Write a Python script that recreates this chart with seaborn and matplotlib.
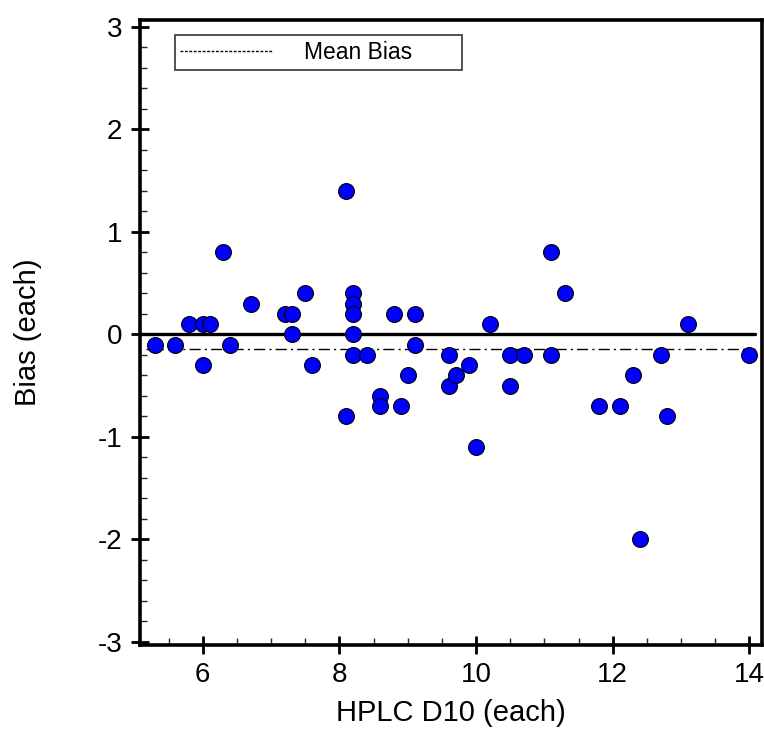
import numpy as np
import pandas as pd
import seaborn as sns
import matplotlib.pyplot as plt
from matplotlib.lines import Line2D
from matplotlib.ticker import MultipleLocator

# HPLC D10 values (x) and bias (y)
hplc_d10 = [5.3, 5.6, 5.8, 6.0, 6.1, 6.0, 6.3, 6.4, 6.7, 7.2, 7.3, 7.3, 7.5, 7.6,
            8.1, 8.1, 8.2, 8.2, 8.2, 8.2, 8.2, 8.4, 8.6, 8.6, 8.8, 8.9, 9.0, 9.1,
            9.1, 9.6, 9.6, 9.7, 9.9, 10.0, 10.2, 10.5, 10.5, 10.7, 11.1, 11.1,
            11.3, 11.8, 12.1, 12.3, 12.4, 12.7, 12.8, 13.1, 14.0]
bias = [-0.1, -0.1, 0.1, 0.1, 0.1, -0.3, 0.8, -0.1, 0.3, 0.2, 0.2, 0.0, 0.4, -0.3,
        1.4, -0.8, 0.4, 0.3, 0.2, 0.0, -0.2, -0.2, -0.6, -0.7, 0.2, -0.7, -0.4, 0.2,
        -0.1, -0.2, -0.5, -0.4, -0.3, -1.1, 0.1, -0.2, -0.5, -0.2, 0.8, -0.2,
        0.4, -0.7, -0.7, -0.4, -2.0, -0.2, -0.8, 0.1, -0.2]
x_ticks = [6, 8, 10, 12, 14]
y_ticks = [-3, -2, -1, 0, 1, 2, 3]

df = pd.DataFrame({"x": hplc_d10, "bias": bias})
mean_bias = df["bias"].mean()

sns.set_style("ticks")
plt.rcParams['font.family'] = ['Liberation Sans', 'DejaVu Sans']
plt.rcParams['text.color'] = 'black'
plt.rcParams['axes.labelcolor'] = 'black'

fig = plt.figure(figsize=(7.64, 7.31), dpi=100)
ax = fig.add_axes([0.183, 0.118, 0.814, 0.855])

ax.axhline(0, color="black", lw=2.4, xmin=0.0, xmax=0.99, zorder=2)
ax.axhline(mean_bias, color="black", lw=1.0, ls=(0, (8, 3, 1.5, 3)),
           xmin=0.01, xmax=0.99, zorder=2)

sns.scatterplot(data=df, x="x", y="bias", ax=ax, color="#0000ff", s=130,
                edgecolor="black", linewidth=0.8, zorder=3, legend=False)

ax.set_xlim(5.08, 14.18)
ax.set_ylim(-3.03, 3.07)
ax.set_xticks(x_ticks)
ax.set_yticks(y_ticks)
ax.set_yticklabels([str(t) for t in y_ticks])
ax.xaxis.set_minor_locator(MultipleLocator(0.5))
ax.yaxis.set_minor_locator(MultipleLocator(0.2))
ax.tick_params(which="major", direction="inout", length=13, width=2,
               labelsize=20, pad=6, colors="black")
ax.tick_params(which="minor", direction="in", length=5, width=1)

for sp in ax.spines.values():
    sp.set_visible(True)
    sp.set_linewidth(2.6)
    sp.set_color("black")

ax.set_xlabel("HPLC D10 (each)", fontsize=21, labelpad=8)
ax.set_ylabel("Bias (each)", fontsize=21, labelpad=40)

handle = Line2D([], [], color="black", lw=1.0, ls=(0, (2, 1.2)))
leg = ax.legend(handles=[handle], labels=["Mean Bias"], loc="upper left",
                bbox_to_anchor=(0.056, 0.0, 0.462, 0.975), mode="expand",
                fontsize=16.5, frameon=True, fancybox=False, handlelength=4.0,
                handletextpad=1.4, borderpad=0.25, borderaxespad=0)
leg.get_frame().set_edgecolor("black")
leg.get_frame().set_linewidth(1.2)

plt.savefig("out.png", dpi=100)
